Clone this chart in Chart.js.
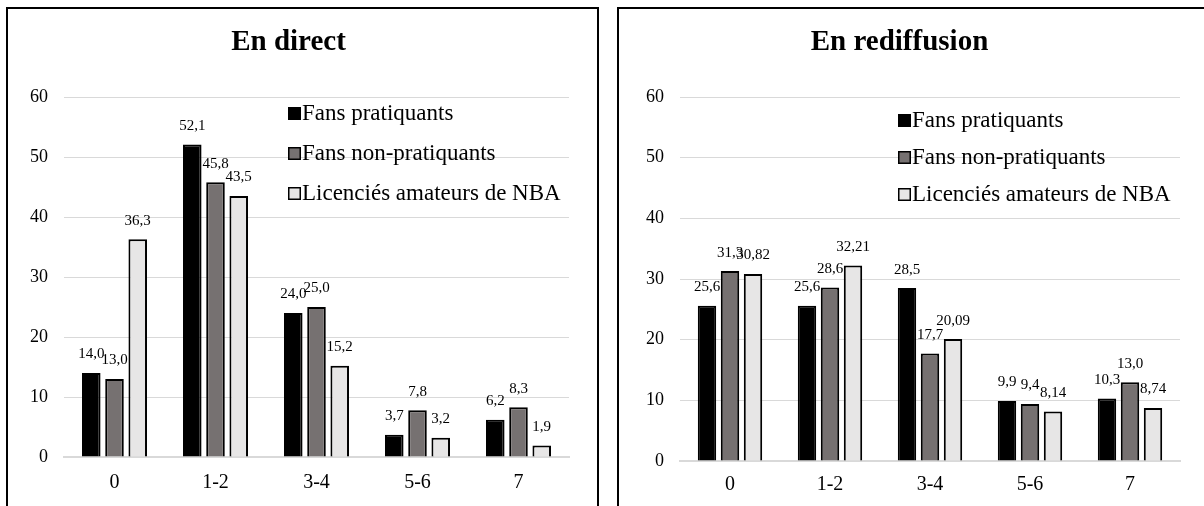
<!DOCTYPE html>
<html lang="fr">
<head>
<meta charset="utf-8">
<title>En direct / En rediffusion</title>
<script src="https://cdn.jsdelivr.net/npm/chart.js@4.4.1/dist/chart.umd.min.js"></script>
<style>
	html, body { margin: 0; padding: 0; background: #fff; overflow: hidden; }
	.panel { position: absolute; top: 7px; width: 589px; height: 510px; border: 2px solid #000; background: #fff; }
	#panel-direct { left: 6px; }
	#panel-rediff { left: 617px; }
	canvas { display: block; }
</style>
</head>
<body>
<div class="panel" id="panel-direct"><canvas id="chart-direct" width="589" height="497"></canvas></div>
<div class="panel" id="panel-rediff"><canvas id="chart-rediff" width="589" height="497"></canvas></div>
<script>
'use strict';

// Data
var categories = ['0', '1-2', '3-4', '5-6', '7'];
var seriesNames = ['Fans pratiquants', 'Fans non-pratiquants', 'Licenciés amateurs de NBA'];
var seriesColors = ['#000000', '#767171', '#e7e6e6'];
var yTicks = [0, 10, 20, 30, 40, 50, 60];

var directPratiquants = [14.0, 52.1, 24.0, 3.7, 6.2];
var directNonPratiquants = [13.0, 45.8, 25.0, 7.8, 8.3];
var directLicencies = [36.3, 43.5, 15.2, 3.2, 1.9];
var directDecimals = [1, 1, 1];

var rediffPratiquants = [25.6, 25.6, 28.5, 9.9, 10.3];
var rediffNonPratiquants = [31.3, 28.6, 17.7, 9.4, 13.0];
var rediffLicencies = [30.82, 32.21, 20.09, 8.14, 8.74];
var rediffDecimals = [1, 1, 2];

var SERIF = "'Liberation Serif', 'Times New Roman', serif";

// Value labels above each bar (French decimal comma)
var valueLabels = {
	id: 'valueLabels',
	afterDatasetsDraw: function (chart, args, opts) {
		var ctx = chart.ctx;
		ctx.save();
		ctx.font = opts.size + 'px ' + SERIF;
		ctx.fillStyle = '#000';
		ctx.textAlign = 'center';
		ctx.textBaseline = 'bottom';
		chart.data.datasets.forEach(function (ds, i) {
			var meta = chart.getDatasetMeta(i);
			meta.data.forEach(function (bar, j) {
				var txt = ds.data[j].toFixed(opts.decimals[i]).replace('.', ',');
				ctx.fillText(txt, bar.x, bar.y - opts.gap);
			});
		});
		ctx.restore();
	}
};

// Legend drawn inside the plot area, on top of the grid
var innerLegend = {
	id: 'innerLegend',
	afterDatasetsDraw: function (chart, args, opts) {
		var ctx = chart.ctx;
		var area = chart.chartArea;
		ctx.save();
		ctx.font = opts.size + 'px ' + SERIF;
		ctx.textAlign = 'left';
		ctx.textBaseline = 'middle';
		chart.data.datasets.forEach(function (ds, i) {
			var x = area.left + opts.x;
			var y = area.top + opts.rows[i];
			ctx.fillStyle = ds.backgroundColor;
			ctx.fillRect(x, y - 6, 13, 13);
			ctx.strokeStyle = '#000';
			ctx.lineWidth = 1.5;
			ctx.strokeRect(x + 0.75, y - 5.25, 11.5, 11.5);
			ctx.fillStyle = '#000';
			ctx.fillText(ds.label, x + 14, y + 1);
		});
		ctx.restore();
	}
};

function makeChart(id, title, series, decimals, yWidth, xHeight, xPad, legendX, legendRows) {
	var datasets = series.map(function (values, i) {
		return {
			label: seriesNames[i],
			data: values,
			backgroundColor: seriesColors[i],
			borderColor: '#000',
			borderWidth: 2,
			categoryPercentage: 0.69,
			barPercentage: 0.8
		};
	});

	return new Chart(document.getElementById(id), {
		type: 'bar',
		data: { labels: categories, datasets: datasets },
		plugins: [valueLabels, innerLegend],
		options: {
			responsive: false,
			animation: false,
			layout: { padding: { left: 0, right: 28, top: 0, bottom: 0 } },
			plugins: {
				legend: { display: false },
				tooltip: { enabled: false },
				title: {
					display: true,
					text: title,
					color: '#000',
					font: { family: SERIF, size: 29, weight: 'bold' },
					padding: { top: 16.6, bottom: 36.6 }
				},
				valueLabels: { size: 15, gap: 11, decimals: decimals },
				innerLegend: { size: 23, x: legendX, rows: legendRows }
			},
			scales: {
				x: {
					grid: { display: false, drawTicks: false },
					border: { display: true, color: '#d9d9d9', width: 2 },
					ticks: { color: '#000', padding: xPad, font: { family: SERIF, size: 20 } },
					afterFit: function (scale) { scale.height = xHeight; }
				},
				y: {
					min: 0,
					max: 60,
					afterBuildTicks: function (scale) {
						scale.ticks = yTicks.map(function (v) { return { value: v }; });
					},
					grid: { color: '#d9d9d9', lineWidth: 1, drawTicks: false },
					border: { display: false },
					ticks: { color: '#000', padding: 16, font: { family: SERIF, size: 18 } },
					afterFit: function (scale) { scale.width = yWidth; }
				}
			}
		}
	});
}

makeChart('chart-direct', 'En direct',
	[directPratiquants, directNonPratiquants, directLicencies], directDecimals,
	56, 49, 14, 224, [16, 56, 96]);

makeChart('chart-rediff', 'En rediffusion',
	[rediffPratiquants, rediffNonPratiquants, rediffLicencies], rediffDecimals,
	61, 45, 12, 218, [23, 60, 97]);
</script>
</body>
</html>
